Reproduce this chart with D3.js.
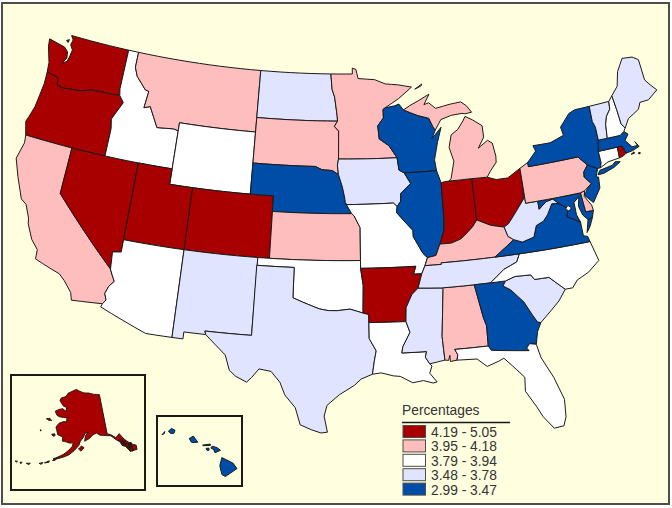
<!DOCTYPE html>
<html>
<head>
<meta charset="utf-8">
<script src="https://cdn.jsdelivr.net/npm/d3@7"></script>
<style>
html, body { margin: 0; padding: 0; background: #fff; }
svg { display: block; }
text { font-family: "Liberation Sans", Arial, sans-serif; fill: #333; }
</style>
</head>
<body>
<svg id="chart" width="672" height="508"></svg>
<script>
// legend classes, highest first
const classLabels = ['4.19 - 5.05', '3.95 - 4.18', '3.79 - 3.94', '3.48 - 3.78', '2.99 - 3.47']
const classColors = ['#a80000', '#ffbebe', '#ffffff', '#e1e4ff', '#004da8']

const class0States = ['WA', 'OR', 'NV', 'UT', 'CO', 'AR', 'IN', 'OH', 'RI', 'AK']
const class1States = ['CA', 'MT', 'SD', 'MN', 'KS', 'MI', 'PA', 'KY', 'AL', 'DE']
const class2States = ['ID', 'WY', 'AZ', 'OK', 'MO', 'LA', 'FL', 'NC', 'NH', 'CT', 'DC']
const class3States = ['ND', 'IA', 'NM', 'TX', 'MS', 'TN', 'SC', 'WV', 'VT', 'ME']
const class4States = ['NE', 'WI', 'IL', 'GA', 'VA', 'MD', 'NY', 'NJ', 'MA', 'HI']
const statesByClass = [class0States, class1States, class2States, class3States, class4States]

// rough state outlines, lon,lat pairs; a state with several rings has several strings
const lower48 = {
  WA: ['-124.7,48.38 -124.6,47.9 -124.1,46.9 -124,46.27 -123.4,46.2 -122.9,46.1 -122.76,45.65 -122.2,45.57 -121.2,45.65 -120.5,45.7 -119.6,45.92 -119,45.95 -116.92,46 -117.04,46.42 -117.04,49 -122.76,49 -122.5,48.75 -122.6,48.4 -122.3,48.1 -122.4,47.6 -122.5,47.3 -122.9,47.1 -122.6,47.5 -122.7,47.9 -123.1,48.15',
       '-123.1,48.6 -122.85,48.7 -122.9,48.5'],
  OR: ['-124,46.27 -123.95,45.5 -124.05,44.7 -124.15,43.9 -124.4,43.2 -124.55,42.84 -124.2,42 -120,42 -117.03,42 -117.03,43.8 -117.2,44.4 -116.9,44.9 -116.46,45.6 -116.92,46 -119,45.95 -119.6,45.92 -120.5,45.7 -121.2,45.65 -122.2,45.57 -122.76,45.65 -122.9,46.1 -123.4,46.2'],
  CA: ['-124.2,42 -124.1,41.5 -124.4,40.4 -123.8,39.3 -123,38 -122.5,37.75 -122,36.95 -121.9,36.6 -121.3,35.7 -120.65,35.15 -120.6,34.55 -119.3,34.2 -118.5,34 -118,33.65 -117.3,33 -117.12,32.53 -114.72,32.72 -114.5,33 -114.7,33.4 -114.5,33.9 -114.15,34.27 -114.45,34.7 -114.63,35 -120,39 -120,42'],
  NV: ['-120,42 -120,39 -114.63,35 -114.74,36.1 -114.05,36.2 -114.05,37 -114.05,42'],
  ID: ['-117.04,49 -116.05,49 -116.05,48 -115.7,47.45 -114.7,46.7 -114.35,46.65 -114.5,45.55 -113.95,45.7 -113.45,45.05 -113,44.45 -111.5,44.55 -111.05,44.48 -111.05,42 -114.05,42 -117.03,42 -117.03,43.8 -117.2,44.4 -116.9,44.9 -116.46,45.6 -116.92,46 -117.04,46.42'],
  MT: ['-116.05,49 -104.05,49 -104.05,45.94 -104.05,45 -111.05,45 -111.05,44.48 -111.5,44.55 -113,44.45 -113.45,45.05 -113.95,45.7 -114.5,45.55 -114.35,46.65 -114.7,46.7 -115.7,47.45 -116.05,48'],
  WY: ['-111.05,45 -104.05,45 -104.05,43 -104.05,41 -109.05,41 -111.05,41 -111.05,42 -111.05,44.48'],
  UT: ['-114.05,42 -111.05,42 -111.05,41 -109.05,41 -109.05,37 -114.05,37'],
  CO: ['-109.05,41 -104.05,41 -102.05,41 -102.05,40 -102.05,37 -103,37 -109.05,37'],
  AZ: ['-114.05,37 -109.05,37 -109.05,31.33 -111.07,31.33 -114.81,32.5 -114.72,32.72 -114.5,33 -114.7,33.4 -114.5,33.9 -114.15,34.27 -114.45,34.7 -114.63,35 -114.74,36.1 -114.05,36.2'],
  NM: ['-109.05,37 -103,37 -103,36.5 -103.04,32 -106.62,32 -106.53,31.78 -108.21,31.78 -108.21,31.33 -109.05,31.33'],
  ND: ['-104.05,49 -97.23,49 -97.1,48 -96.85,47.5 -96.6,46.3 -96.56,45.94 -104.05,45.94'],
  SD: ['-104.05,45.94 -96.56,45.94 -96.85,45.6 -96.45,45.3 -96.45,43.5 -96.55,43.1 -96.45,42.5 -97,42.76 -97.9,42.8 -98.5,43 -104.05,43'],
  NE: ['-104.05,43 -98.5,43 -97.9,42.8 -97,42.76 -96.45,42.5 -96.1,41.7 -95.9,41 -95.85,40.7 -95.31,40 -102.05,40 -102.05,41 -104.05,41'],
  KS: ['-102.05,40 -95.31,40 -95.1,39.85 -94.61,39.1 -94.62,37 -102.05,37'],
  OK: ['-103,37 -102.05,37 -94.62,37 -94.62,36.5 -94.43,35.4 -94.48,33.64 -95.5,33.9 -96.5,33.8 -97.2,33.8 -97.9,33.9 -99.2,34.3 -100,34.56 -100,36.5 -103,36.5'],
  TX: ['-103.04,36.5 -100,36.5 -100,34.56 -99.2,34.3 -97.9,33.9 -97.2,33.8 -96.5,33.8 -95.5,33.9 -94.48,33.64 -94.04,33.55 -94.04,33.02 -94.04,32 -93.53,31.2 -93.7,30.5 -93.85,29.7 -94.7,29.4 -95.2,29 -96.3,28.4 -97.2,27.7 -97.4,27 -97.15,25.96 -97.6,25.9 -98.3,26.1 -99.1,26.4 -99.5,27.5 -100.3,28.3 -100.7,29.1 -101.4,29.77 -102.3,29.88 -102.8,29.3 -103.15,28.97 -104,29.3 -104.5,29.65 -104.9,30.6 -106.53,31.78 -106.62,32 -103.04,32'],
  MN: ['-97.23,49 -95.15,49 -95.15,49.38 -94.8,49.3 -94.6,48.7 -93,48.6 -92,48.3 -90.8,48.2 -89.5,48 -90.8,47.3 -92.1,46.75 -92.3,46.65 -92.3,46.1 -92.85,45.6 -92.75,44.75 -91.9,44.3 -91.22,43.5 -96.45,43.5 -96.45,45.3 -96.85,45.6 -96.56,45.94 -96.6,46.3 -96.85,47.5 -97.1,48'],
  IA: ['-96.45,43.5 -91.22,43.5 -91.1,42.7 -90.65,42.5 -90.15,41.8 -91.05,41.2 -91.1,40.7 -91.42,40.38 -91.73,40.61 -95.77,40.58 -95.85,40.7 -95.9,41 -96.1,41.7 -96.45,42.5 -96.55,43.1'],
  MO: ['-95.77,40.58 -91.73,40.61 -91.42,40.38 -91.5,40 -90.75,39.3 -90.2,38.8 -90.2,38.4 -89.5,37.3 -89.15,37 -89.4,36.5 -89.7,36 -90.37,36 -90.15,36.5 -94.62,36.5 -94.62,37 -94.61,39.1 -95.1,39.85 -95.31,40 -95.85,40.7'],
  AR: ['-94.62,36.5 -90.15,36.5 -90.37,36 -89.7,36 -90.07,35.1 -90.6,34.7 -91.1,33.9 -91.17,33 -94.04,33.02 -94.04,33.55 -94.48,33.64 -94.43,35.4'],
  LA: ['-94.04,33.02 -91.17,33 -90.9,32.3 -91.5,31.4 -91.6,31 -89.73,31 -89.85,30.65 -89.55,30.2 -89.4,30.05 -89.6,29.6 -89.1,29 -89.4,28.95 -90.1,29.15 -90.9,29.05 -91.8,29.5 -92.3,29.55 -93.2,29.77 -93.85,29.7 -93.7,30.5 -93.53,31.2 -94.04,32'],
  MS: ['-90.07,35.1 -88.2,35 -88.1,34.9 -88.47,31.9 -88.4,30.37 -89.55,30.2 -89.85,30.65 -89.73,31 -91.6,31 -91.5,31.4 -90.9,32.3 -91.17,33 -91.1,33.9 -90.6,34.7'],
  AL: ['-88.2,35 -85.6,35 -85.18,32.87 -85,32.3 -85.05,31 -87.6,31 -87.4,30.65 -87.5,30.3 -88,30.25 -88,30.65 -88.13,30.33 -88.4,30.37 -88.47,31.9 -88.1,34.9'],
  WI: ['-92.3,46.65 -92.1,46.75 -91.2,46.85 -90.8,46.95 -90.4,46.55 -89.1,46.13 -88.1,45.9 -87.8,45.35 -87.6,45.1 -88,44.55 -87.05,45.25 -87.5,44.3 -87.9,43.2 -87.8,42.5 -90.65,42.5 -91.1,42.7 -91.22,43.5 -91.9,44.3 -92.75,44.75 -92.85,45.6 -92.3,46.1'],
  IL: ['-90.65,42.5 -87.8,42.5 -87.5,41.7 -87.53,39.35 -87.6,38.7 -88.05,37.8 -88.45,37.1 -89.15,37 -89.5,37.3 -90.2,38.4 -90.2,38.8 -90.75,39.3 -91.5,40 -91.42,40.38 -91.1,40.7 -91.05,41.2 -90.15,41.8'],
  IN: ['-87.5,41.7 -87.2,41.75 -86.8,41.76 -84.8,41.76 -84.8,39.1 -85.2,38.7 -85.8,38.3 -86.3,38 -87.1,37.8 -88.05,37.8 -87.6,38.7 -87.53,39.35'],
  OH: ['-84.8,41.76 -83.45,41.73 -82.7,41.5 -81.7,41.5 -80.52,41.98 -80.52,40.64 -80.65,40 -81.75,39 -82.2,38.6 -82.6,38.42 -83.7,38.65 -84.8,39.1'],
  KY: ['-89.15,37 -88.45,37.1 -88.05,37.8 -87.1,37.8 -86.3,38 -85.8,38.3 -85.2,38.7 -84.8,39.1 -83.7,38.65 -82.6,38.42 -82.4,37.8 -81.97,37.54 -83.68,36.6 -88.07,36.6 -88.07,36.5 -89.4,36.5'],
  TN: ['-90.07,35.1 -89.7,36 -89.4,36.5 -88.07,36.5 -88.07,36.6 -83.68,36.6 -81.68,36.59 -82,36.1 -83.1,35.75 -84.3,35 -85.6,35 -88.2,35'],
  MI: ['-84.8,41.76 -83.45,41.73 -83.15,42.05 -82.5,42.6 -82.45,43 -82.6,43.85 -83,44.07 -83.9,43.65 -83.3,44.3 -83.3,45.05 -84.1,45.5 -84.75,45.78 -85,45.5 -85.55,45 -86.2,44.7 -86.5,43.9 -86.2,43 -86.6,41.9 -86.8,41.76',
       '-90.4,46.55 -89.1,46.13 -88.1,45.9 -87.8,45.35 -87.6,45.1 -87,45.75 -86,45.95 -85,46 -84.7,45.95 -84.1,46 -84.5,46.45 -85,46.75 -86.1,46.67 -87.4,46.5 -88,46.9 -88.45,46.8 -87.9,47.45 -88.9,47.1 -89.8,46.8',
       '-89.2,47.85 -88.5,48.15 -88.6,48.02'],
  GA: ['-85.6,35 -84.3,35 -83.1,35 -83.35,34.7 -82.8,34.4 -81.9,33.5 -81.4,32.6 -81.1,32.1 -80.85,32.03 -81.2,31.5 -81.45,30.7 -81.95,30.8 -82.2,30.55 -82.05,30.36 -84.86,30.7 -85.05,31 -85,32.3 -85.18,32.87'],
  FL: ['-87.6,31 -85.05,31 -84.86,30.7 -82.05,30.36 -82.2,30.55 -81.95,30.8 -81.45,30.7 -81.25,29.8 -80.55,28.4 -80.05,26.9 -80.15,25.75 -80.4,25.2 -81.1,25.15 -81.75,26 -82.1,26.7 -82.75,27.8 -82.65,28.7 -83.4,29.5 -84,30.1 -84.4,29.95 -85.3,29.7 -86,30.25 -87.5,30.3 -87.4,30.65'],
  SC: ['-83.1,35 -82.3,35.2 -81.05,35.15 -80.8,34.82 -79.65,34.8 -78.55,33.87 -79.2,33.2 -79.9,32.7 -80.85,32.03 -81.1,32.1 -81.4,32.6 -81.9,33.5 -82.8,34.4 -83.35,34.7'],
  NC: ['-84.3,35 -83.1,35.75 -82,36.1 -81.68,36.59 -75.87,36.55 -75.5,35.25 -76.5,34.65 -77.5,34.3 -77.95,33.87 -78.55,33.87 -79.65,34.8 -80.8,34.82 -81.05,35.15 -82.3,35.2 -83.1,35'],
  VA: ['-83.68,36.6 -81.97,37.54 -81.3,37.3 -80.3,37.5 -79.95,38.2 -79.3,38.4 -78.87,38.76 -78.35,39.4 -77.75,39.32 -77.1,38.9 -77.3,38.4 -76.3,37.9 -76.3,37 -75.97,36.9 -75.87,36.55 -81.68,36.59',
       '-75.95,37.15 -75.65,37.95 -75.25,38.03 -75.6,37.5'],
  WV: ['-82.6,38.42 -82.2,38.6 -81.75,39 -80.65,40 -80.52,40.64 -80.52,39.72 -79.48,39.72 -79.48,39.2 -78.8,39.6 -78.2,39.68 -77.75,39.32 -78.35,39.4 -78.87,38.76 -79.3,38.4 -79.95,38.2 -80.3,37.5 -81.3,37.3 -81.97,37.54 -82.4,37.8'],
  MD: ['-79.48,39.72 -75.79,39.72 -75.7,38.46 -75.05,38.45 -75.25,38.03 -75.65,37.95 -76,38.3 -76.2,38.9 -76,39.5 -76.5,39.2 -76.5,38.4 -76.3,37.9 -77.3,38.4 -77.1,38.9 -77.75,39.32 -78.2,39.68 -78.8,39.6 -79.48,39.2'],
  DE: ['-75.79,39.72 -75.4,39.8 -75.55,39.45 -75.1,38.8 -75.05,38.45 -75.7,38.46'],
  DC: ['-77.3,38.9 -77.05,39.1 -76.8,38.9 -77.05,38.72'],
  PA: ['-80.52,41.98 -79.76,42.27 -79.76,42 -75.35,42 -74.7,41.36 -75.13,40.98 -75.2,40.65 -74.72,40.15 -75.4,39.8 -75.79,39.72 -80.52,39.72'],
  NJ: ['-74.7,41.36 -73.9,41 -74.2,40.5 -74,40.45 -74.1,39.75 -74.9,38.93 -75.5,39.5 -75.13,39.9 -74.72,40.15 -75.2,40.65 -75.13,40.98'],
  NY: ['-79.76,42.27 -78.9,42.9 -79.05,43.27 -77.5,43.25 -76.2,43.55 -76.3,44.1 -75.3,44.85 -74.7,45 -73.35,45 -73.4,44 -73.25,43.6 -73.27,42.75 -73.5,42.05 -73.5,41.3 -73.65,41 -73.9,41 -74.7,41.36 -75.35,42 -79.76,42',
       '-74,40.6 -73.75,40.85 -72.6,40.98 -72.3,41.15 -71.87,41.07 -72.5,40.82 -73.5,40.6'],
  CT: ['-73.5,42.05 -71.8,42.02 -71.85,41.32 -72.9,41.25 -73.65,41 -73.5,41.3'],
  RI: ['-71.8,42.02 -71.38,42.02 -71.2,41.5 -71.5,41.37 -71.85,41.32'],
  MA: ['-73.5,42.05 -73.27,42.75 -72.46,42.73 -71.3,42.7 -70.9,42.88 -70.6,42.65 -71,42.3 -70.55,41.8 -70.05,41.78 -70.2,42.07 -69.95,41.7 -70.6,41.55 -71.2,41.5 -71.38,42.02 -71.8,42.02',
       '-70.8,41.35 -70.5,41.45 -70.5,41.35', '-70.2,41.3 -70,41.32 -70.05,41.22'],
  VT: ['-73.35,45 -71.5,45 -71.6,44.5 -72.05,44.1 -72.3,43.6 -72.46,42.73 -73.27,42.75 -73.25,43.6 -73.4,44'],
  NH: ['-71.5,45 -71.1,45.3 -71,44.3 -70.95,43.4 -70.7,43.07 -70.9,42.88 -71.3,42.7 -72.46,42.73 -72.3,43.6 -72.05,44.1 -71.6,44.5'],
  ME: ['-71.1,45.3 -70.4,45.8 -70,46.7 -69.25,47.45 -68.3,47.35 -67.8,47.07 -67.8,45.7 -67.45,45.3 -67,44.85 -68,44.4 -68.8,44.4 -69.1,44 -70.2,43.6 -70.7,43.07 -70.95,43.4 -71,44.3']
}

const alaska = {
  AK: ['-141,69.65 -141,60.3 -139.5,60 -137.5,59 -135.5,59.7 -134,58.1 -131.8,56.6 -130,55.9 -130.3,54.9 -132,55 -133.5,55.5 -134.5,56.5 -136,57.7 -137.5,58.5 -139.5,59.7 -142,60 -144.5,60.3 -146,60.9 -148,60.5 -149.5,59.8 -151.8,59.2 -151.3,60.5 -150,61.2 -151.5,61 -152.5,60 -153.8,59.2 -154.5,58.2 -156.5,57 -158.5,56 -160.5,55.4 -163,54.8 -164.8,54.6 -163,55.2 -161,55.9 -159,56.9 -157.3,58 -157,58.8 -158.8,58.7 -160,58.9 -162,59 -162,60 -164.5,60.3 -165.5,61.5 -166,62 -164.8,63 -162.8,63.5 -161,63.6 -161,64.5 -163,64.5 -165,64.5 -166.5,64.7 -168,65.6 -166,66.2 -164,66.5 -162,66 -161.8,66.9 -163.8,67.1 -166.5,68.3 -166,68.9 -163,69.5 -162,70.3 -159,70.9 -156.5,71.35 -154,70.9 -151,70.5 -148,70.4 -145,70',
       '-171.7,63.4 -170,63.7 -168.8,63.3 -170.3,63.2', '-167.4,60.2 -166,60.4 -165.7,60 -166.6,59.8', '-173.1,60.6 -172.6,60.4 -172.9,60.3',
       '-154.6,57.4 -153.3,58.1 -152.2,57.7 -153.5,56.9', '-165,54.2 -164.2,54.6 -163.4,54.8 -164,54.3', '-167.9,53.3 -166.2,54 -166.3,53.6', '-169.9,52.9 -168.5,53.3 -169,52.8',
       '-174.6,52.1 -173.2,52.4 -173.5,52', '-177,51.9 -176.2,52 -176.6,51.6', '-178.9,51.7 -178,51.9 -178.3,51.6',
       '-136.5,58.2 -135,58.4 -135.2,57.7', '-136,57.6 -135,57.8 -134.7,56.5 -135.7,56.9', '-134.6,57.9 -134,57.9 -134,56.9 -134.4,56.9', '-134,56.8 -133,57 -132.7,56 -133.7,56', '-133.6,55.9 -131.9,56 -132,54.9 -133.2,55',
       '-133.2,56.5 -132.2,56.6 -132.4,55.6 -133,55.7', '-132.5,57 -131.6,56.9 -131.7,56 -132.3,56.2']
}

const hawaii = {
  HI: ['-155.9,20.25 -155.1,19.88 -154.8,19.5 -155.65,18.95 -155.9,19.1 -156.05,19.7',
       '-156.7,20.9 -156.6,21.03 -156.25,20.93 -156,20.75 -156.4,20.58 -156.5,20.8',
       '-157.3,21.1 -156.75,21.17 -156.72,21.08 -157.25,21.06', '-157.05,20.88 -156.85,20.9 -156.82,20.76 -156.98,20.74',
       '-158.27,21.55 -157.97,21.71 -157.65,21.3 -157.9,21.27 -158.12,21.3',
       '-159.78,22.05 -159.55,22.23 -159.3,22.1 -159.4,21.88 -159.65,21.9', '-160.25,21.8 -160.05,22.02 -160.08,21.88']
}

const stateClass = {}
statesByClass.forEach((list, i) => list.forEach(s => { stateClass[s] = i }))

// long edges run along parallels, so split them or geoPath bends them as great arcs
const splitEdges = (pts) => pts.flatMap((p, i) => {
  if (i == pts.length - 1) return [p]
  const q = pts[i + 1]
  const n = Math.max(Math.ceil(Math.abs(q[0] - p[0])), 1)
  return d3.range(n).map(k => [p[0] + (q[0] - p[0]) * k / n, p[1] + (q[1] - p[1]) * k / n])
})

// build a feature for each state, rewinding rings so that d3.geoPath sees small polygons
const toFeatures = (group) => Object.keys(group).map(id => {
  const polygons = group[id].map(ring => {
    const pts = ring.split(' ').map(p => p.split(',').map(Number))
    pts.push(pts[0])
    const closed = splitEdges(pts)
    if (d3.geoArea({type: 'Polygon', coordinates: [closed]}) > 2 * Math.PI) closed.reverse()
    return [closed]
  })
  return {type: 'Feature', id, geometry: {type: 'MultiPolygon', coordinates: polygons}}
})

const svg = d3.select('#chart')
const color = d3.scaleOrdinal().domain(d3.range(classLabels.length)).range(classColors)

// page frame
svg.append('rect').attr('x', 2).attr('y', 3).attr('width', 667).attr('height', 501)
  .attr('fill', '#ffffe0').attr('stroke', '#4d4d4d').attr('stroke-width', 2)

const drawStates = (features, projection) => {
  svg.append('g').selectAll('path').data(features).join('path')
    .attr('d', d3.geoPath(projection))
    .attr('fill', d => color(stateClass[d.id]))
    .attr('stroke', '#1a1a1a').attr('stroke-width', 1).attr('stroke-linejoin', 'round')
}

const mainFeatures = toFeatures(lower48)
const mainProjection = d3.geoConicEqualArea().parallels([29.5, 45.5]).rotate([96, 0])
  .fitExtent([[15, 35.5], [658, 433]], {type: 'FeatureCollection', features: mainFeatures})
drawStates(mainFeatures, mainProjection)

// inset boxes
const insetBox = (x, y, w, h) => svg.append('rect').attr('x', x).attr('y', y).attr('width', w).attr('height', h)
  .attr('fill', 'none').attr('stroke', '#1a1a1a').attr('stroke-width', 2)
insetBox(11, 375, 134, 115)
insetBox(157, 416, 85, 70)

const akFeatures = toFeatures(alaska)
drawStates(akFeatures, d3.geoConicEqualArea().parallels([55, 65]).rotate([154, 0])
  .fitExtent([[15, 388], [137, 466]], {type: 'FeatureCollection', features: akFeatures}))

const hiFeatures = toFeatures(hawaii)
drawStates(hiFeatures, d3.geoMercator()
  .fitExtent([[162, 428], [237, 477]], {type: 'FeatureCollection', features: hiFeatures}))

// legend
const legend = svg.append('g')
legend.append('text').text('Percentages').attr('x', 402).attr('y', 415).attr('font-size', 13.8)
legend.append('line').attr('x1', 402).attr('x2', 510).attr('y1', 422.5).attr('y2', 422.5)
  .attr('stroke', '#1a1a1a').attr('stroke-width', 1.5)

const legendY = d3.scaleBand().domain(classLabels).range([425, 497])
const rows = legend.selectAll('g.row').data(classLabels).join('g').attr('class', 'row')
  .attr('transform', d => `translate(0,${legendY(d)})`)
rows.append('rect').attr('x', 403).attr('y', 0.5).attr('width', 22.5).attr('height', 12)
  .attr('fill', (d, i) => color(i)).attr('stroke', '#4d4d4d').attr('stroke-width', 1)
rows.append('text').text(d => d).attr('x', 431).attr('y', 12).attr('font-size', 13.8)
</script>
</body>
</html>
